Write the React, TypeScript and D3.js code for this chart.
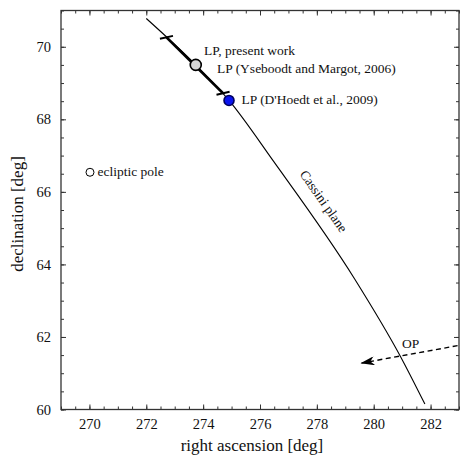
import React, { useRef, useEffect } from 'react';
import * as d3 from 'd3';

// Cassini plane (right ascension, declination)
const cassiniRA = [272.0, 273.74, 274.91, 276.46, 279.33, 280.95, 281.8];
const cassiniDec = [70.78, 69.5, 68.52, 66.86, 63.6, 61.45, 60.15];

// thick uncertainty segment with end caps
const segRA = [272.71, 274.7];
const segDec = [70.26, 68.72];

const points = [
  { name: 'present', ra: 273.74, dec: 69.5, fill: '#d4d4d4', r: 5.5 },
  { name: 'dhoedt', ra: 274.91, dec: 68.52, fill: '#0a14f0', r: 5 },
  { name: 'ecliptic', ra: 270.02, dec: 66.54, fill: '#ffffff', r: 4 },
];

// orbit pole arrow
const opRA = [282.95, 279.57];
const opDec = [61.76, 61.28];

const xTicks = [270, 272, 274, 276, 278, 280, 282];
const yTicks = [60, 62, 64, 66, 68, 70];

export default function App() {
  const svgRef = useRef<SVGSVGElement>(null);
  const W = 462, H = 456;
  const m = { left: 61, right: 3, top: 10.5, bottom: 46.5 };

  useEffect(() => {
    const svg = d3.select(svgRef.current);
    svg.selectAll('*').remove();
    const font = "'Liberation Serif', 'Times New Roman', serif";

    const x = d3.scaleLinear().domain([269, 283]).range([m.left, W - m.right]);
    const y = d3.scaleLinear().domain([60, 71]).range([H - m.bottom, m.top]);

    const minorX = d3.range(269, 283.01, 0.5);
    const minorY = d3.range(60, 71.01, 0.5);

    const g = svg.append('g');

    const styleAxis = (sel) => {
      sel.select('.domain').remove();
      sel.selectAll('line').attr('stroke', '#333').attr('stroke-width', 1);
      sel.selectAll('text').attr('font-family', font).attr('font-size', 14.5).attr('fill', '#111');
    };

    // bottom
    g.append('g').attr('transform', `translate(0,${y(60)})`)
      .call(d3.axisBottom(x).tickValues(minorX).tickSize(-3).tickFormat(() => '')).call(styleAxis);
    g.append('g').attr('transform', `translate(0,${y(60)})`)
      .call(d3.axisBottom(x).tickValues(xTicks).tickSize(-5).tickPadding(9).tickFormat(d3.format('d'))).call(styleAxis);
    // top
    g.append('g').attr('transform', `translate(0,${y(71)})`)
      .call(d3.axisTop(x).tickValues(minorX).tickSize(-3).tickFormat(() => '')).call(styleAxis);
    g.append('g').attr('transform', `translate(0,${y(71)})`)
      .call(d3.axisTop(x).tickValues(xTicks).tickSize(-5).tickFormat(() => '')).call(styleAxis);
    // left
    g.append('g').attr('transform', `translate(${x(269)},0)`)
      .call(d3.axisLeft(y).tickValues(minorY).tickSize(-3).tickFormat(() => '')).call(styleAxis);
    g.append('g').attr('transform', `translate(${x(269)},0)`)
      .call(d3.axisLeft(y).tickValues(yTicks).tickSize(-5).tickPadding(10).tickFormat(d3.format('d'))).call(styleAxis);
    // right
    g.append('g').attr('transform', `translate(${x(283)},0)`)
      .call(d3.axisRight(y).tickValues(minorY).tickSize(-3).tickFormat(() => '')).call(styleAxis);
    g.append('g').attr('transform', `translate(${x(283)},0)`)
      .call(d3.axisRight(y).tickValues(yTicks).tickSize(-5).tickFormat(() => '')).call(styleAxis);

    // frame
    g.append('rect')
      .attr('x', x(269)).attr('y', y(71))
      .attr('width', x(283) - x(269)).attr('height', y(60) - y(71))
      .attr('fill', 'none').attr('stroke', '#333').attr('stroke-width', 1.3);

    // Cassini plane curve
    const line = d3.line<number>()
      .x((_, i) => x(cassiniRA[i]))
      .y((d) => y(d))
      .curve(d3.curveMonotoneX);
    g.append('path').attr('d', line(cassiniDec))
      .attr('fill', 'none').attr('stroke', '#000').attr('stroke-width', 1.1);

    // thick segment
    g.append('line')
      .attr('x1', x(segRA[0])).attr('y1', y(segDec[0]))
      .attr('x2', x(segRA[1])).attr('y2', y(segDec[1]))
      .attr('stroke', '#000').attr('stroke-width', 2.6);
    segRA.forEach((ra, i) => {
      g.append('line')
        .attr('x1', x(ra - 0.23)).attr('y1', y(segDec[i] - 0.04))
        .attr('x2', x(ra + 0.23)).attr('y2', y(segDec[i] + 0.04))
        .attr('stroke', '#000').attr('stroke-width', 2);
    });

    // OP dashed arrow
    g.append('defs').append('marker')
      .attr('id', 'arrowhead').attr('viewBox', '0 0 14 9')
      .attr('refX', 13).attr('refY', 4.5)
      .attr('markerWidth', 15).attr('markerHeight', 9)
      .attr('markerUnits', 'userSpaceOnUse')
      .attr('orient', 'auto')
      .append('path').attr('d', 'M0,0 L14,4.5 L0,9 L4,4.5 Z').attr('fill', '#000');
    g.append('line')
      .attr('x1', x(opRA[0])).attr('y1', y(opDec[0]))
      .attr('x2', x(opRA[1])).attr('y2', y(opDec[1]))
      .attr('stroke', '#000').attr('stroke-width', 1.4)
      .attr('stroke-dasharray', '5,3.5')
      .attr('marker-end', 'url(#arrowhead)');

    // points
    g.selectAll('circle.pt').data(points).join('circle')
      .attr('class', 'pt')
      .attr('cx', (d) => x(d.ra)).attr('cy', (d) => y(d.dec)).attr('r', (d) => d.r)
      .attr('fill', (d) => d.fill)
      .attr('stroke', (d) => (d.name === 'dhoedt' ? '#000060' : '#000'))
      .attr('stroke-width', (d) => (d.name === 'ecliptic' ? 1 : 1.6));

    // annotations
    const txt = (tx, ty, s, size = 13.5) =>
      g.append('text').attr('x', tx).attr('y', ty).attr('font-family', font)
        .attr('font-size', size).attr('fill', '#111').text(s);
    txt(204, 55, 'LP, present work');
    txt(217, 72.5, 'LP (Yseboodt and Margot, 2006)');
    txt(241.5, 104, "LP (D'Hoedt et al., 2009)");
    txt(97.5, 176, 'ecliptic pole');
    txt(402, 348, 'OP');

    g.append('text')
      .attr('transform', `translate(${x(278.2)},${y(65.72)}) rotate(55)`)
      .attr('text-anchor', 'middle').attr('dominant-baseline', 'middle').attr('font-family', font)
      .attr('font-size', 13.5).attr('fill', '#111').text('Cassini plane');

    // axis titles
    g.append('text').attr('x', 252).attr('y', 451).attr('text-anchor', 'middle')
      .attr('font-family', font).attr('font-size', 17).attr('fill', '#111')
      .text('right ascension [deg]');
    g.append('text').attr('transform', `translate(23,${214}) rotate(-90)`)
      .attr('text-anchor', 'middle').attr('font-family', font).attr('font-size', 17)
      .attr('fill', '#111').text('declination [deg]');
  }, []);

  return (
    <div style={{ position: 'absolute', left: 0, top: 0 }}>
      <svg ref={svgRef} width={W} height={H} style={{ display: 'block', background: '#fff' }} />
    </div>
  );
}
